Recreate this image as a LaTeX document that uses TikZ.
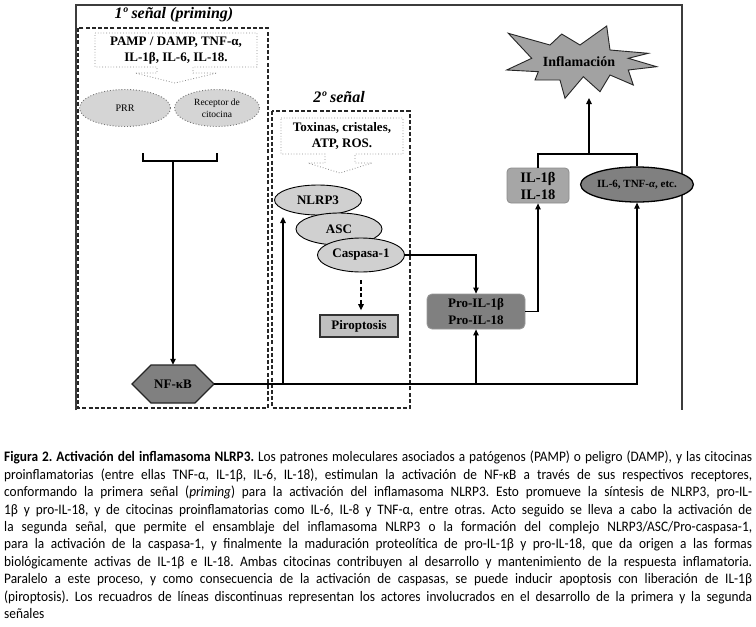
\documentclass[tikz,border=0pt]{standalone}
\usepackage{fontspec}
\setmainfont{Carlito}[FakeStretch=0.92]
\newfontfamily\dfont{Liberation Serif}
\usetikzlibrary{arrows.meta,shapes.geometric,calc}
\definecolor{lightg}{RGB}{208,208,208}
\definecolor{pirog}{RGB}{192,192,192}
\definecolor{midg}{RGB}{166,166,166}
\definecolor{darkg}{RGB}{128,128,128}
\definecolor{starg}{RGB}{162,162,162}
\definecolor{frameg}{RGB}{60,60,60}
\newcommand{\capline}[1]{\makebox[748pt][s]{#1}}
\tikzset{
  tbold/.style={font=\dfont\bfseries\fontsize{13}{16}\selectfont, inner sep=0pt},
  ttitle/.style={font=\dfont\bfseries\itshape\fontsize{16}{18}\selectfont, inner sep=0pt},
  ell/.style={ellipse, draw=black, line width=0.9pt, fill=lightg, inner sep=0pt},
  conn/.style={line width=1.1pt},
  arr/.style={line width=1.1pt, -{Triangle[length=6pt,width=5.5pt]}},
  dashbox/.style={draw=black!85, line width=1.1pt, dash pattern=on 4pt off 2.2pt},
  callout/.style={draw=black!45, line width=0.8pt, dotted, fill=white},
  framel/.style={draw=frameg, line width=1.8pt}
}
\begin{document}
\begin{tikzpicture}[x=1pt,y=-1pt]
\useasboundingbox (0,0) rectangle (756,627);
\fill[white] (0,0) rectangle (756,627);
% outer frame
\coordinate (fbl) at (76,410);
\coordinate (ftl) at (76,5);
\coordinate (ftr) at (682,5);
\coordinate (fbr) at (682,410);
\draw[framel] (fbl) -- (ftl) -- (ftr) -- (fbr);
% dashed boxes
\draw[dashbox] (78,28) rectangle (268,408);
\draw[dashbox] (272,111) rectangle (410,408);
\node[ttitle] (t1) at (174,15) {1º señal (priming)};
\node[ttitle] (t2) at (339,97) {2º señal};
% callout 1
\draw[callout] (95,33) -- (257,33) -- (257,67) -- (193,67) -- (193,73) -- (217,73) -- (175,83) -- (135,73) -- (157,73) -- (157,67) -- (95,67) -- cycle;
\node[tbold] (pamp1) at (176,42) {PAMP / DAMP, TNF-α,};
\node[tbold] (pamp2) at (176,58) {IL-1β, IL-6, IL-18.};
% callout 2
\draw[callout] (281,118) -- (403,118) -- (403,154) -- (355,154) -- (355,163) -- (372,163) -- (340,173) -- (308,163) -- (325,163) -- (325,154) -- (281,154) -- cycle;
\node[tbold] (tox1) at (342,128) {Toxinas, cristales,};
\node[tbold] (tox2) at (342,144) {ATP, ROS.};
% receptors
\node[ell, draw=black!55, dotted, fill=lightg!90!white, minimum width=91pt, minimum height=37pt, font=\dfont\fontsize{10}{12}\selectfont] (prr) at (125,108) {PRR};
\node[ell, draw=black!55, dotted, fill=lightg!90!white, minimum width=85pt, minimum height=37pt, align=center, font=\dfont\fontsize{9.5}{12.5}\selectfont] (rec) at (217,108) {Receptor de\\citocina};
% bracket to NF-kB
\coordinate (bl) at (143,153);
\coordinate (br) at (217,153);
\coordinate (bm) at (173,161);
\draw[conn] (bl) -- (bl |- bm) -- (br |- bm) -- (br);
% NF-kB hexagon
\draw[fill=darkg, line width=1.1pt, draw=black!85] (132,384) -- (151,365) -- (195,365) -- (214,384) -- (195,403) -- (151,403) -- cycle;
\node[tbold, minimum width=82pt, minimum height=38pt] (nfkb) at (173,384) {NF-κB};
\draw[arr] (bm) -- (nfkb.north);
% inflammasome
\node[ell, minimum width=87pt, minimum height=30pt, tbold] (nlrp) at (318,200) {NLRP3};
\node[ell, minimum width=86pt, minimum height=32pt, tbold] (asc) at (339,229) {ASC};
\node[ell, minimum width=87pt, minimum height=34pt, tbold] (casp) at (361,255) {Caspasa-1};
\node[draw=black!80, line width=1.6pt, fill=pirog, minimum width=78pt, minimum height=22pt, tbold] (piro) at (359,326) {Piroptosis};
\draw[arr, dash pattern=on 4pt off 2.5pt, shorten <=8pt, shorten >=4pt] (casp.south) -- (casp.south |- piro.north);
% pro-IL
\node[draw=black!40, line width=0.8pt, fill=darkg, rounded corners=5pt, minimum width=98pt, minimum height=35pt, align=center, font=\dfont\bfseries\fontsize{13}{17.5}\selectfont, inner sep=0pt] (proil) at (476,311.5) {Pro-IL-1β\\Pro-IL-18};
% IL-1b box and IL-6 ellipse
\node[draw=black!45, line width=0.8pt, fill=midg, rounded corners=4pt, minimum width=62pt, minimum height=35pt, align=center, font=\dfont\bfseries\fontsize{14.5}{17}\selectfont, inner sep=0pt] (il1) at (538,185.5) {IL-1β\\IL-18};
\node[ellipse, draw=black, line width=1.3pt, fill=darkg, minimum width=87pt, minimum height=35pt, inner sep=0pt, font=\dfont\bfseries\fontsize{11}{13}\selectfont] (il6) at (637,184.5) {IL-6, TNF-\textit{α}, etc.};
% star
\draw[fill=starg, line width=0.9pt, draw=black!85] (508.3,33.3) -- (550,45) -- (561.7,34) -- (580,45) -- (606.7,26) -- (610,50) -- (648.3,53.3) -- (628.3,58.3) -- (656.7,66.7) -- (628.3,70) -- (633.3,85) -- (610,75) -- (600,91.7) -- (583.3,76.7) -- (565,98.3) -- (560,80) -- (535,80) -- (538.3,71.7) -- (506.7,70) -- (531.7,58.3) -- cycle;
\node[font=\dfont\bfseries\fontsize{14}{16}\selectfont, inner sep=0pt] (infl) at (579,62) {Inflamación};
% connectors
\coordinate (j1) at (283,384);
\coordinate (n3in) at (283,217);
\draw[arr] (nfkb.east) -| (il6.south);
\draw[arr] (j1) -- (n3in);
\draw[arr] (proil.south |- nfkb.east) -- (proil.south);
\draw[arr] (casp.east) -| (proil.north);
\draw[arr] (proil.east) -| (il1.south);
\coordinate (tm) at (589,154);
\coordinate (sb) at (589,98);
\draw[conn] (il1.north) |- (tm) -| (il6.north);
\draw[arr] (tm) -- (sb);
% caption
\node[anchor=north west, inner sep=0pt, align=left, font=\frenchspacing\fontsize{14.5}{17.4}\selectfont] (cap) at (4,451) {%
\capline{\textbf{Figura 2. Activación del inflamasoma NLRP3.} Los patrones moleculares asociados a patógenos (PAMP) o peligro (DAMP), y las citocinas}\\
\capline{proinflamatorias (entre ellas TNF-α, IL-1β, IL-6, IL-18), estimulan la activación de NF-κB a través de sus respectivos receptores,}\\
\capline{conformando la primera señal (\textit{priming}) para la activación del inflamasoma NLRP3. Esto promueve la síntesis de NLRP3, pro-IL-}\\
\capline{1β y pro-IL-18, y de citocinas proinflamatorias como IL-6, IL-8 y TNF-α, entre otras. Acto seguido se lleva a cabo la activación de}\\
\capline{la segunda señal, que permite el ensamblaje del inflamasoma NLRP3 o la formación del complejo NLRP3/ASC/Pro-caspasa-1,}\\
\capline{para la activación de la caspasa-1, y finalmente la maduración proteolítica de pro-IL-1β y pro-IL-18, que da origen a las formas}\\
\capline{biológicamente activas de IL-1β e IL-18. Ambas citocinas contribuyen al desarrollo y mantenimiento de la respuesta inflamatoria.}\\
\capline{Paralelo a este proceso, y como consecuencia de la activación de caspasas, se puede inducir apoptosis con liberación de IL-1β}\\
\capline{(piroptosis). Los recuadros de líneas discontinuas representan los actores involucrados en el desarrollo de la primera y la segunda}\\
señales};
\end{tikzpicture}
\end{document}
